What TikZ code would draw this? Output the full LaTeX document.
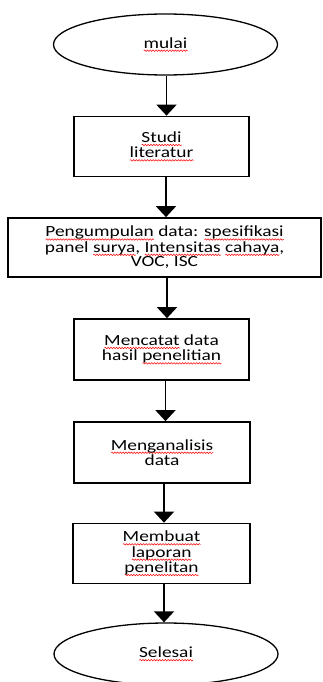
\documentclass[tikz,border=0pt]{standalone}
\usepackage{fontspec}
\setmainfont{Carlito}[FakeStretch=1.25]
\usetikzlibrary{arrows.meta,shapes.geometric,decorations.pathmorphing}
\newsavebox\sqbox
\newcommand\sq[1]{\sbox\sqbox{#1}\rlap{\pgfinterruptpicture\tikz[baseline=0pt,x=1cm,y=1cm]{\path (0pt,0pt); \draw[red,line width=0.5pt,decorate,decoration={snake,amplitude=0.75pt,segment length=2.8pt}] (0pt,-2.6pt) -- (\wd\sqbox,-2.6pt);}\endpgfinterruptpicture}\usebox\sqbox}
\begin{document}
\begin{tikzpicture}[x=1pt,y=-1pt,
  term/.style={ellipse,draw,line width=1.3pt,minimum width=224pt,minimum height=61pt,inner sep=0pt,font=\fontsize{15.5}{14}\selectfont},
  proc/.style={rectangle,draw,line width=1.7pt,minimum width=175pt,minimum height=60pt,inner sep=0pt,align=center,font=\fontsize{15.5}{13.5}\selectfont},
  arr/.style={line width=1.8pt,-{Triangle[width=20pt,length=11pt]}}]
\useasboundingbox (0,0) rectangle (323,682);
\node[term] (start) at (165.5,44.5) {\sq{mulai}};
\node[proc,font=\fontsize{15.5}{14}\selectfont] (b1) at (161.5,146.5) {\sq{Studi}\\\sq{literatur}};
\node[proc,minimum width=313pt,minimum height=59pt,font=\fontsize{15.5}{13.5}\selectfont] (b2) at (164.5,247.5) {\sq{Pengumpulan} data: \sq{spesifikasi}\\panel \sq{surya}, \sq{Intensitas} \sq{cahaya},\\VOC, ISC};
\node[proc,minimum height=61pt] (b3) at (161.5,349.5) {\sq{Mencatat} data\\hasil \sq{penelitian}};
\node[proc,minimum width=176pt,minimum height=61pt,font=\fontsize{15.5}{12.5}\selectfont] (b4) at (162,452.5) {\sq{Menganalisis}\\data};
\node[proc,minimum width=177pt,font=\fontsize{15.5}{13}\selectfont] (b5) at (161.5,553.5) {\sq{Membuat}\\\sq{laporan}\\\sq{penelitan}};
\node[term,minimum height=62pt] (end) at (166,654) {\sq{Selesai}};
\coordinate (c1) at (166.5,0);
\coordinate (c2) at (166,0);
\coordinate (c3) at (167,0);
\coordinate (c4) at (165.5,0);
\coordinate (c5) at (164,0);
\coordinate (c6) at (164,0);
\draw[arr] (start.south -| c1) -- (b1.north -| c1);
\draw[arr] (b1.south -| c2) -- (b2.north -| c2);
\draw[arr] (b2.south -| c3) -- (b3.north -| c3);
\draw[arr] (b3.south -| c4) -- (b4.north -| c4);
\draw[arr] (b4.south -| c5) -- (b5.north -| c5);
\draw[arr] (b5.south -| c6) -- (end.north -| c6);
\end{tikzpicture}
\end{document}
